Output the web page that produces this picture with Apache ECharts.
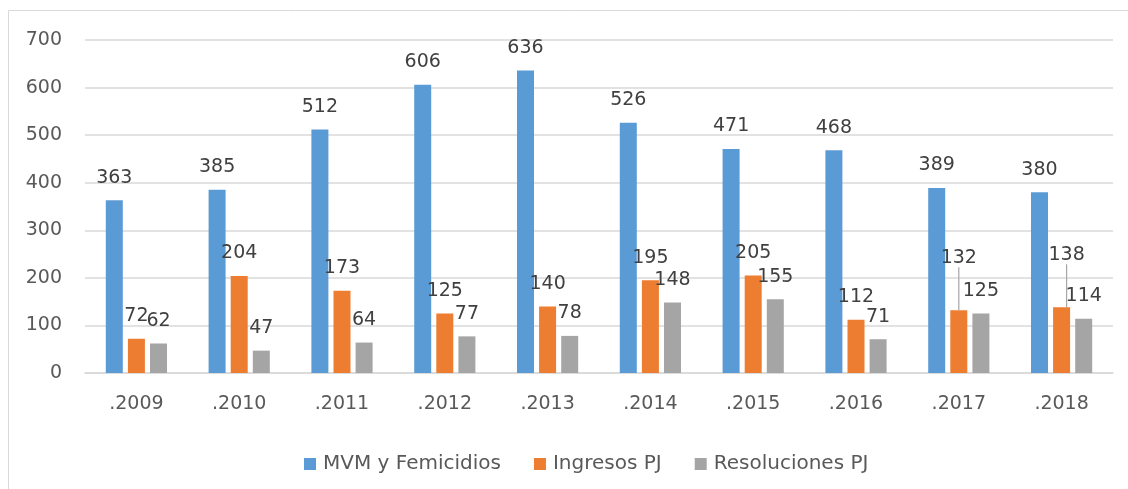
<!DOCTYPE html>
<html><head><meta charset="utf-8">
<script src="https://cdn.jsdelivr.net/npm/echarts@6/dist/echarts.min.js"></script>
<style>html,body{margin:0;padding:0;background:#fff}#c{width:1128px;height:489px}</style>
</head><body><div id="c"></div>
<script>
const categories = ['.2009','.2010','.2011','.2012','.2013','.2014','.2015','.2016','.2017','.2018'];
const mvm = [363,385,512,606,636,526,471,468,389,380];
const ingresos = [72,204,173,125,140,195,205,112,132,138];
const resoluciones = [62,47,64,77,78,148,155,71,125,114];
const seriesNames = ['MVM y Femicidios','Ingresos PJ','Resoluciones PJ'];
const titleText = 'Gráfico 1. Evolución de casos de Mujeres y Femicidios, Ingresos, Resoluciones por el PJ';

const FONT = 'DejaVu Sans';
const chart = echarts.init(document.getElementById('c'), null, {renderer:'canvas'});
const lbl = {show:true, position:'top', distance:13, color:'#404040', fontSize:19, fontFamily:FONT};
function bar(name, data, color){
  return {type:'bar', name, data, barWidth:17, barGap:'30%', itemStyle:{color}, label:lbl};
}
const lineStyle = {color:'#a6a6a6', width:1.2};
const sIng = bar(seriesNames[1], ingresos.map((v,i)=> (i>=8 ? {value:v, labelLine:{show:true, lineStyle}} : v)), '#ed7d31');
sIng.labelLayout = function(p){
  if (p.dataIndex === 8) return {dy:-30};
  if (p.dataIndex === 9) return {dx:5, dy:-30};
  return {};
};
chart.setOption({
  animation:false,
  textStyle:{fontFamily:FONT},
  graphic:[
    {type:'rect', shape:{x:8.5, y:10.5, width:1140, height:500}, style:{fill:'none', stroke:'#d9d9d9', lineWidth:1}, z:-1},
    {type:'text', left:4, top:-25, style:{text:titleText, font:'bold 24px "Noto Sans"', fill:'#000'}}
  ],
  grid:{left:85, right:15, top:40, bottom:116},
  legend:{left:299, top:449, itemWidth:12, itemHeight:12, itemGap:33, icon:'rect',
    textStyle:{fontSize:20, color:'#595959', fontFamily:FONT, padding:[0,0,0,2]}},
  xAxis:{type:'category', data:categories, axisLine:{lineStyle:{color:'#d9d9d9', width:1.5}}, axisTick:{show:false},
    axisLabel:{color:'#595959', fontSize:19, margin:22, fontFamily:FONT}},
  yAxis:{type:'value', min:0, max:700, interval:100, axisLine:{show:false}, axisTick:{show:false},
    splitLine:{lineStyle:{color:'#d9d9d9', width:1.5}},
    axisLabel:{color:'#595959', fontSize:19, margin:23, fontFamily:FONT}},
  series:[bar(seriesNames[0], mvm, '#5b9bd5'), sIng, bar(seriesNames[2], resoluciones, '#a5a5a5')]
});
</script></body></html>
